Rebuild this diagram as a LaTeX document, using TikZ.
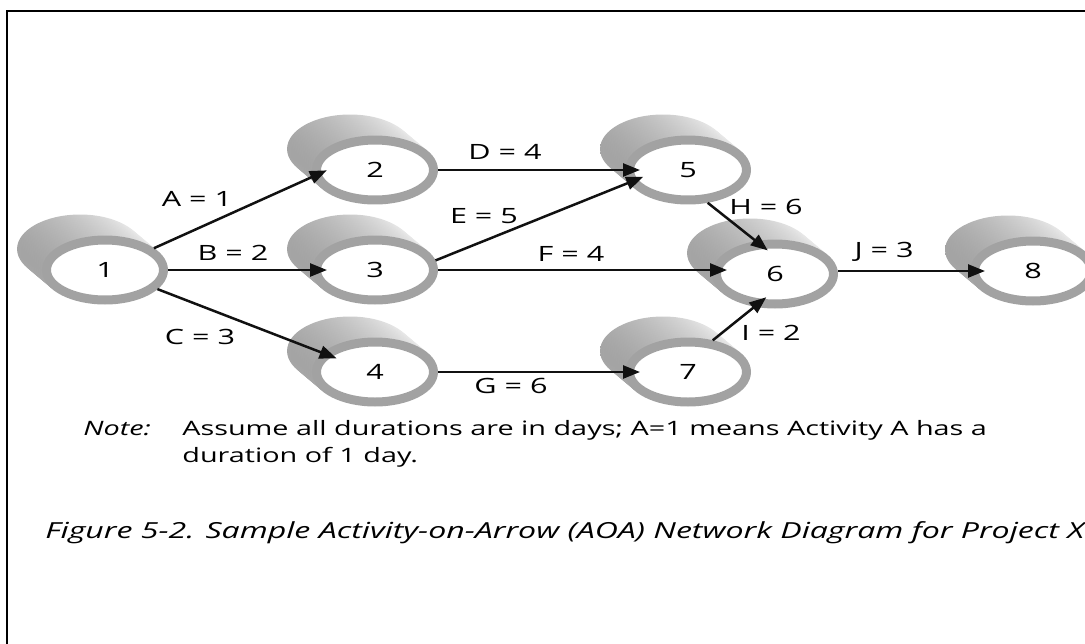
\documentclass[tikz,border=0pt]{standalone}
\usepackage{fontspec}
\setmainfont{Open Sans}[FakeStretch=1.45]
\usepackage{tikz}
\usetikzlibrary{arrows.meta,positioning,calc,shapes.geometric}
\definecolor{aoaink}{HTML}{111111}
\definecolor{aoaring}{HTML}{A2A2A2}
\definecolor{aoadark}{HTML}{A4A4A4}
\definecolor{aoalight}{HTML}{F2F2F2}

\begin{document}
\begin{tikzpicture}[x=0.02cm,y=-0.02cm,
    evt/.style={ellipse,draw=aoaring,line width=0.18cm,fill=white,minimum width=2.34cm,minimum height=1.2cm,inner sep=0pt,font=\fontsize{12}{14}\selectfont},
    act/.style={-{Triangle[length=0.34cm,width=0.26cm]},line width=0.05cm,aoaink,shorten >=-0.3cm},
    lbl/.style={font=\fontsize{12}{14}\selectfont,inner sep=0pt},
    txt/.style={font=\fontsize{11.3}{14}\selectfont,inner sep=0pt,anchor=base west}]
  \useasboundingbox (0,0) rectangle (1085,643);
  \clip (0,0) rectangle (1085,643);
  \draw[line width=0.03cm] (7,660) -- (7,11) -- (1100,11);

  \foreach \n/\x/\y in {1/105/270, 2/375/170, 3/375/270, 4/375/372, 5/688/170, 6/775/274, 7/688/372, 8/1033/271}{
    \foreach \k in {12,11,...,1}{
      \shade[left color=aoadark,right color=aoalight] (\x-2.08*\k,\y-1.75*\k) ellipse [x radius=1.26cm,y radius=0.69cm];
    }
    \node[evt] (n\n) at (\x,\y) {\n};
  }

  \draw[act] (n1.24) -- (n2.186);
  \draw[act] (n1.east) -- (n3.west);
  \draw[act] (n1.-20) -- (n4.160);
  \draw[act] (n2.east) -- (n5.west);
  \draw[act] (n3.9) -- (n5.192);
  \draw[act] (n3.east) -- (n3.east -| n6.west);
  \draw[act] (n4.east) -- (n7.west);
  \draw[act] (n5.-59) -- (n6.120);
  \draw[act] (n7.52) -- (n6.238);
  \draw[act] (n8.west -| n6.east) -- (n8.west);

  \node[lbl] (lA) at (197,199) {A = 1};
  \node[lbl] (lB) at (233,253) {B = 2};
  \node[lbl] (lC) at (200,337) {C = 3};
  \node[lbl] (lD) at (505,152) {D = 4};
  \node[lbl] (lE) at (484,216) {E = 5};
  \node[lbl] (lF) at (571,254) {F = 4};
  \node[lbl] (lG) at (511,386) {G = 6};
  \node[lbl] (lH) at (766,207) {H = 6};
  \node[lbl] (lI) at (771,333) {I = 2};
  \node[lbl] (lJ) at (884,252) {J = 3};

  \node[txt] (note) at (83,435) {\itshape Note:};
  \node[txt] (body1) at (182,435) {Assume all durations are in days; A=1 means Activity A has a};
  \node[txt] (body2) at (182,462) {duration of 1 day.};
  \node[txt,font=\fontsize{12.6}{14}\selectfont\itshape] (cap) at (45,538) {Figure 5-2. Sample Activity-on-Arrow (AOA) Network Diagram for Project X};
\end{tikzpicture}
\end{document}
